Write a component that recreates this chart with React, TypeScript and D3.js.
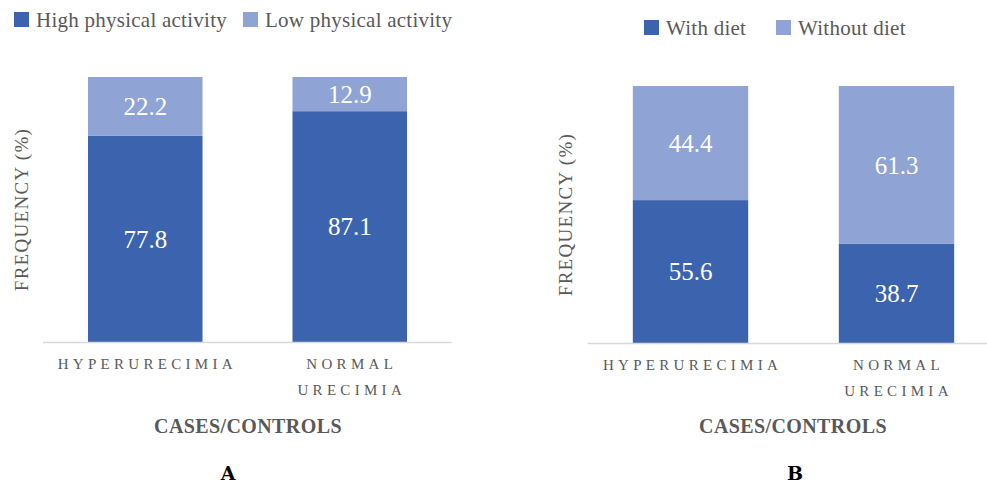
import React from "react";
import * as d3 from "d3";

// Panel A: physical activity by group
const groupLabels = [["HYPERURECIMIA"], ["NORMAL", "URECIMIA"]];
const groupKeys = ["hyper", "normal"];
const activitySeries = ["High physical activity", "Low physical activity"];
const highActivity = [77.8, 87.1];
const lowActivity = [22.2, 12.9];

// Panel B: diet by group
const dietSeries = ["With diet", "Without diet"];
const withDiet = [55.6, 38.7];
const withoutDiet = [44.4, 61.3];

const yDomain = [0, 100];

const DARK = "#3C64AE";
const LIGHT = "#8FA3D4";
const GRAY = "#595959";
const FONT = "'Liberation Serif', 'DejaVu Serif', serif";

type PanelProps = {
  bottomVals: number[];
  topVals: number[];
  xRange: [number, number];
  yRange: [number, number];
  axisEnd: number;
  yTitleX: number;
  legend: { names: string[]; x: number[]; y: number };
  catY: number;
  titleX: number;
  letter: string;
  letterX: number;
};

function Panel(p: PanelProps) {
  const x = d3
    .scaleBand<string>()
    .domain(groupKeys)
    .range(p.xRange)
    .paddingInner(0.44)
    .paddingOuter(0.22);
  const y = d3.scaleLinear().domain(yDomain).range(p.yRange);
  const base = y(0);
  const yMid = (y(0) + y(100)) / 2;
  const colors = [DARK, LIGHT];

  return (
    <g>
      {/* legend */}
      {p.legend.names.map((n, i) => (
        <g key={n}>
          <rect x={p.legend.x[i]} y={p.legend.y - 10} width={15} height={15} fill={colors[i]} />
          <text
            x={p.legend.x[i] + 22}
            y={p.legend.y + 5}
            fontSize={21}
            letterSpacing={0.25}
            fill={GRAY}
            fontFamily={FONT}
          >
            {n}
          </text>
        </g>
      ))}

      {/* stacked bars */}
      {groupKeys.map((k, i) => {
        const x0 = x(k)!;
        const w = x.bandwidth();
        const b = p.bottomVals[i];
        const t = p.topVals[i];
        return (
          <g key={k}>
            <rect x={x0} y={y(b)} width={w} height={base - y(b)} fill={DARK} />
            <rect x={x0} y={y(b + t)} width={w} height={y(b) - y(b + t)} fill={LIGHT} />
            <text
              x={x0 + w / 2}
              y={(y(0) + y(b)) / 2}
              dy="0.35em"
              textAnchor="middle"
              fontSize={25}
              fill="#ffffff"
              fontFamily={FONT}
            >
              {b.toFixed(1)}
            </text>
            <text
              x={x0 + w / 2}
              y={(y(b) + y(b + t)) / 2}
              dy="0.35em"
              textAnchor="middle"
              fontSize={25}
              fill="#ffffff"
              fontFamily={FONT}
            >
              {t.toFixed(1)}
            </text>
          </g>
        );
      })}

      {/* baseline */}
      <line x1={p.xRange[0]} x2={p.axisEnd} y1={base + 0.5} y2={base + 0.5} stroke="#D9D9D9" strokeWidth={1.5} />

      {/* category labels */}
      {groupKeys.map((k, i) => (
        <text
          key={k}
          x={x(k)! + x.bandwidth() / 2}
          y={p.catY}
          textAnchor="middle"
          fontSize={15}
          letterSpacing={4.3}
          fill={GRAY}
          fontFamily={FONT}
        >
          {groupLabels[i].map((line, j) => (
            <tspan key={line} x={x(k)! + x.bandwidth() / 2 + 2} dy={j === 0 ? 0 : 26}>
              {line}
            </tspan>
          ))}
        </text>
      ))}

      {/* axis titles */}
      <text
        transform={`translate(${p.yTitleX},${yMid}) rotate(-90)`}
        textAnchor="middle"
        fontSize={19}
        letterSpacing={1.3}
        fill={GRAY}
        fontFamily={FONT}
      >
        FREQUENCY (%)
      </text>
      <text
        x={p.titleX}
        y={433}
        textAnchor="middle"
        fontSize={20}
        letterSpacing={0.4}
        fontWeight="bold"
        fill={GRAY}
        fontFamily={FONT}
      >
        CASES/CONTROLS
      </text>
      <text
        x={p.letterX}
        y={480}
        textAnchor="middle"
        fontSize={19}
        fontWeight="bold"
        fill="#000000"
        fontFamily="'DejaVu Serif', serif"
      >
        {p.letter}
      </text>
    </g>
  );
}

export default function App() {
  return (
    <svg
      width={987}
      height={484}
      style={{ position: "absolute", left: 0, top: 0, background: "#ffffff" }}
    >
      <Panel
        bottomVals={highActivity}
        topVals={lowActivity}
        xRange={[43, 452]}
        yRange={[342, 77]}
        axisEnd={452}
        yTitleX={28}
        legend={{ names: activitySeries, x: [14, 243], y: 22 }}
        catY={369}
        titleX={248}
        letter="A"
        letterX={228}
      />
      <Panel
        bottomVals={withDiet}
        topVals={withoutDiet}
        xRange={[587.5, 999.5]}
        yRange={[343, 86]}
        axisEnd={987}
        yTitleX={572}
        legend={{ names: dietSeries, x: [644, 776], y: 30 }}
        catY={370}
        titleX={793}
        letter="B"
        letterX={795}
      />
    </svg>
  );
}
